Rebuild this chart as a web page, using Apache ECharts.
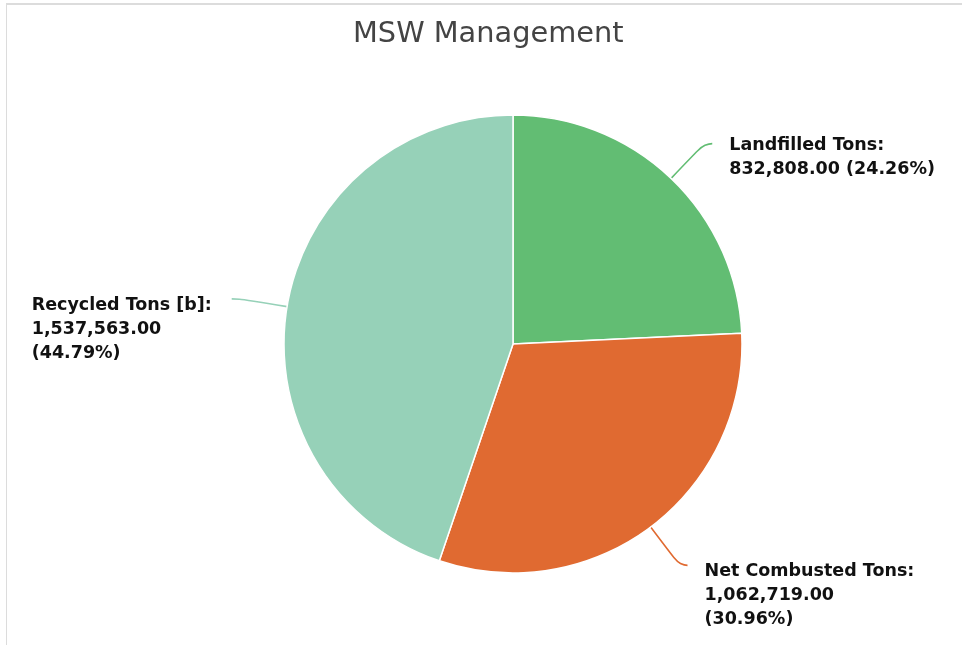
<!DOCTYPE html>
<html>
<head>
<meta charset="utf-8">
<script src="https://cdn.jsdelivr.net/npm/echarts@6/dist/echarts.min.js"></script>
<style>
html,body{margin:0;padding:0;background:#fff;}
#chart{position:absolute;left:0;top:0;width:962px;height:645px;}
#frame{position:absolute;left:6px;top:3px;width:960px;height:640px;border-top:2px solid #dcdcdc;border-left:1px solid #dcdcdc;pointer-events:none;}
</style>
</head>
<body>
<div id="chart"></div>
<div id="frame"></div>
<script>
const titleText = 'MSW Management';
const categories = ['Landfilled Tons', 'Net Combusted Tons', 'Recycled Tons [b]'];
const values = [832808, 1062719, 1537563];
const colors = ['#62bd73', '#e06a31', '#96d1b8'];

const LABEL_FONT = 'bold 17.5px "DejaVu Sans"';
const total = values.reduce((a, b) => a + b, 0);
const ctx = document.createElement('canvas').getContext('2d');
ctx.font = LABEL_FONT;

function fmt(v) {
  return v.toLocaleString('en-US', {minimumFractionDigits: 2, maximumFractionDigits: 2});
}
function labelLines(i) {
  const vs = fmt(values[i]);
  const ps = '(' + (values[i] / total * 100).toFixed(2) + '%)';
  const l2 = vs + ' ' + ps;
  return l2.length > 19 ? [categories[i] + ':', vs, ps] : [categories[i] + ':', l2];
}

const chart = echarts.init(document.getElementById('chart'));
chart.setOption({
  animation: false,
  title: {
    text: titleText,
    left: 348,
    top: 15,
    textStyle: {fontFamily: 'DejaVu Sans', fontSize: 28.8, fontWeight: 'normal', color: '#444'}
  },
  series: [{
    type: 'pie',
    center: [513, 344],
    radius: 229,
    startAngle: 90,
    clockwise: true,
    itemStyle: {borderColor: '#fff', borderWidth: 1.5},
    label: {
      show: true,
      fontFamily: 'DejaVu Sans',
      fontSize: 17.5,
      fontWeight: 'bold',
      color: '#111',
      lineHeight: 24,
      distanceToLabelLine: 17
    },
    labelLine: {show: true, length: 48, length2: 8, smooth: 0.6, lineStyle: {width: 1.6}},
    data: categories.map((c, i) => {
      const lines = labelLines(i);
      const w = Math.ceil(Math.max(...lines.map(s => ctx.measureText(s).width)));
      const pad = lines.length === 2 ? 28 : 61;
      return {
        name: c,
        value: values[i],
        itemStyle: {color: colors[i]},
        label: {
          distanceToLabelLine: i === 2 ? 19 : 17,
          formatter: '{p| }\n' + lines.map(s => '{t|' + s + '}').join('\n'),
          rich: {
            p: {fontSize: 1, lineHeight: pad},
            t: {width: w, align: 'left', fontFamily: 'DejaVu Sans', fontSize: 17.5, fontWeight: 'bold', color: '#111', lineHeight: 24}
          }
        }
      };
    })
  }]
});
</script>
</body>
</html>
